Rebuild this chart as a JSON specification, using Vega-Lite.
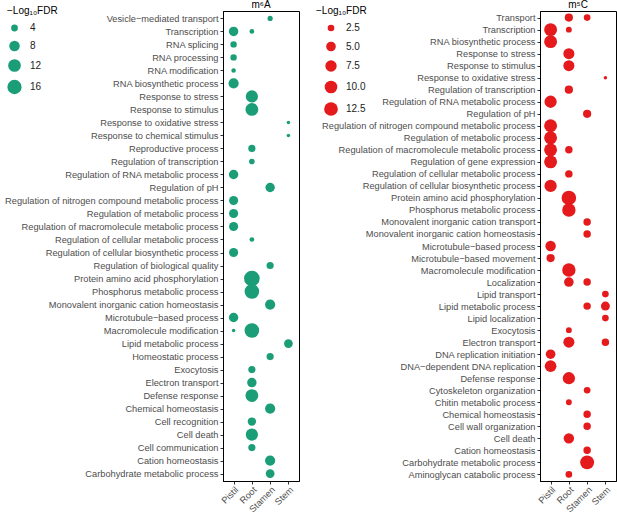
{
  "$schema": "https://vega.github.io/schema/vega-lite/v6.json",
  "padding": {"left": 4, "top": -1, "right": 0, "bottom": 0},
  "background": "white",
  "config": {
    "font": "Liberation Sans",
    "view": {"stroke": "black", "strokeWidth": 1},
    "axis": {"labelFont": "Liberation Sans", "labelFontSize": 9.25, "labelColor": "#4d4d4d", "tickColor": "#333333", "domainColor": "black", "grid": false, "title": null, "tickSize": 3, "labelPadding": 2, "labelLimit": 0},
    "title": {"font": "Liberation Sans", "fontSize": 10, "fontWeight": "normal", "offset": -4, "color": "black"},
    "legend": {"titleFont": "Liberation Sans", "titleFontSize": 10, "titleFontWeight": "normal", "titleColor": "black", "labelFont": "Liberation Sans", "labelFontSize": 10, "labelColor": "#222222", "symbolStrokeWidth": 0, "rowPadding": 8, "labelOffset": 8, "titlePadding": 7, "padding": 0},
    "concat": {"spacing": 15}
  },
  "datasets": {
    "m6A": [
      {"term": "Vesicle−mediated transport", "tissue": "Stamen", "fdr": 3.1},
      {"term": "Transcription", "tissue": "Pistil", "fdr": 6.5},
      {"term": "Transcription", "tissue": "Root", "fdr": 2.9},
      {"term": "RNA splicing", "tissue": "Pistil", "fdr": 3.75},
      {"term": "RNA processing", "tissue": "Pistil", "fdr": 3.75},
      {"term": "RNA modification", "tissue": "Pistil", "fdr": 2.8},
      {"term": "RNA biosynthetic process", "tissue": "Pistil", "fdr": 7.5},
      {"term": "Response to stress", "tissue": "Root", "fdr": 10.9},
      {"term": "Response to stimulus", "tissue": "Root", "fdr": 12.3},
      {"term": "Response to oxidative stress", "tissue": "Stem", "fdr": 2.5},
      {"term": "Response to chemical stimulus", "tissue": "Stem", "fdr": 2.5},
      {"term": "Reproductive process", "tissue": "Root", "fdr": 4.3},
      {"term": "Regulation of transcription", "tissue": "Root", "fdr": 3.3},
      {"term": "Regulation of RNA metabolic process", "tissue": "Pistil", "fdr": 6.5},
      {"term": "Regulation of pH", "tissue": "Stamen", "fdr": 6.5},
      {"term": "Regulation of nitrogen compound metabolic process", "tissue": "Pistil", "fdr": 6.1},
      {"term": "Regulation of metabolic process", "tissue": "Pistil", "fdr": 6.1},
      {"term": "Regulation of macromolecule metabolic process", "tissue": "Pistil", "fdr": 6.1},
      {"term": "Regulation of cellular metabolic process", "tissue": "Root", "fdr": 2.9},
      {"term": "Regulation of cellular biosynthetic process", "tissue": "Pistil", "fdr": 6.1},
      {"term": "Regulation of biological quality", "tissue": "Stamen", "fdr": 4.3},
      {"term": "Protein amino acid phosphorylation", "tissue": "Root", "fdr": 20.4},
      {"term": "Phosphorus metabolic process", "tissue": "Root", "fdr": 16.9},
      {"term": "Monovalent inorganic cation homeostasis", "tissue": "Stamen", "fdr": 7.5},
      {"term": "Microtubule−based process", "tissue": "Pistil", "fdr": 6.5},
      {"term": "Macromolecule modification", "tissue": "Pistil", "fdr": 2.5},
      {"term": "Macromolecule modification", "tissue": "Root", "fdr": 16.9},
      {"term": "Lipid metabolic process", "tissue": "Stem", "fdr": 5.7},
      {"term": "Homeostatic process", "tissue": "Stamen", "fdr": 4.3},
      {"term": "Exocytosis", "tissue": "Root", "fdr": 4.3},
      {"term": "Electron transport", "tissue": "Root", "fdr": 6.5},
      {"term": "Defense response", "tissue": "Root", "fdr": 12.3},
      {"term": "Chemical homeostasis", "tissue": "Stamen", "fdr": 7.5},
      {"term": "Cell recognition", "tissue": "Root", "fdr": 5.3},
      {"term": "Cell death", "tissue": "Root", "fdr": 10.9},
      {"term": "Cell communication", "tissue": "Root", "fdr": 4.3},
      {"term": "Cation homeostasis", "tissue": "Stamen", "fdr": 7.5},
      {"term": "Carbohydrate metabolic process", "tissue": "Stamen", "fdr": 5.7}
    ],
    "m5C": [
      {"term": "Transport", "tissue": "Root", "fdr": 3.6},
      {"term": "Transport", "tissue": "Stamen", "fdr": 2.5},
      {"term": "Transcription", "tissue": "Pistil", "fdr": 10.5},
      {"term": "Transcription", "tissue": "Root", "fdr": 2.1},
      {"term": "RNA biosynthetic process", "tissue": "Pistil", "fdr": 10.5},
      {"term": "Response to stress", "tissue": "Root", "fdr": 7.0},
      {"term": "Response to stimulus", "tissue": "Root", "fdr": 7.0},
      {"term": "Response to oxidative stress", "tissue": "Stem", "fdr": 1.3},
      {"term": "Regulation of transcription", "tissue": "Root", "fdr": 3.6},
      {"term": "Regulation of RNA metabolic process", "tissue": "Pistil", "fdr": 9.2},
      {"term": "Regulation of pH", "tissue": "Stamen", "fdr": 3.6},
      {"term": "Regulation of nitrogen compound metabolic process", "tissue": "Pistil", "fdr": 10.5},
      {"term": "Regulation of metabolic process", "tissue": "Pistil", "fdr": 10.5},
      {"term": "Regulation of macromolecule metabolic process", "tissue": "Pistil", "fdr": 10.5},
      {"term": "Regulation of macromolecule metabolic process", "tissue": "Root", "fdr": 3.0},
      {"term": "Regulation of gene expression", "tissue": "Pistil", "fdr": 10.5},
      {"term": "Regulation of cellular metabolic process", "tissue": "Root", "fdr": 3.0},
      {"term": "Regulation of cellular biosynthetic process", "tissue": "Pistil", "fdr": 9.2},
      {"term": "Protein amino acid phosphorylation", "tissue": "Root", "fdr": 14.8},
      {"term": "Phosphorus metabolic process", "tissue": "Root", "fdr": 11.7},
      {"term": "Monovalent inorganic cation transport", "tissue": "Stamen", "fdr": 3.0},
      {"term": "Monovalent inorganic cation homeostasis", "tissue": "Stamen", "fdr": 3.0},
      {"term": "Microtubule−based process", "tissue": "Pistil", "fdr": 6.0},
      {"term": "Microtubule−based movement", "tissue": "Pistil", "fdr": 3.6},
      {"term": "Macromolecule modification", "tissue": "Root", "fdr": 11.7},
      {"term": "Localization", "tissue": "Root", "fdr": 5.0},
      {"term": "Localization", "tissue": "Stamen", "fdr": 3.0},
      {"term": "Lipid transport", "tissue": "Stem", "fdr": 2.5},
      {"term": "Lipid metabolic process", "tissue": "Stamen", "fdr": 3.0},
      {"term": "Lipid metabolic process", "tissue": "Stem", "fdr": 4.3},
      {"term": "Lipid localization", "tissue": "Stem", "fdr": 2.5},
      {"term": "Exocytosis", "tissue": "Root", "fdr": 2.1},
      {"term": "Electron transport", "tissue": "Root", "fdr": 7.0},
      {"term": "Electron transport", "tissue": "Stem", "fdr": 3.0},
      {"term": "DNA replication initiation", "tissue": "Pistil", "fdr": 5.0},
      {"term": "DNA−dependent DNA replication", "tissue": "Pistil", "fdr": 8.0},
      {"term": "Defense response", "tissue": "Root", "fdr": 9.2},
      {"term": "Cytoskeleton organization", "tissue": "Stamen", "fdr": 2.5},
      {"term": "Chitin metabolic process", "tissue": "Root", "fdr": 2.1},
      {"term": "Chemical homeostasis", "tissue": "Stamen", "fdr": 3.0},
      {"term": "Cell wall organization", "tissue": "Stamen", "fdr": 3.0},
      {"term": "Cell death", "tissue": "Root", "fdr": 6.0},
      {"term": "Cation homeostasis", "tissue": "Stamen", "fdr": 3.0},
      {"term": "Carbohydrate metabolic process", "tissue": "Stamen", "fdr": 13.2},
      {"term": "Aminoglycan catabolic process", "tissue": "Root", "fdr": 2.5}
    ]
  },
  "hconcat": [
    {
      "width": 76,
      "height": 470,
      "title": "m⁶A",
      "data": {"name": "m6A"},
      "mark": {"type": "circle", "color": "#1b9e77", "opacity": 1},
      "encoding": {
        "x": {"field": "tissue", "type": "nominal", "scale": {"type": "point", "domain": ["Pistil", "Root", "Stamen", "Stem"], "padding": 0.58}, "axis": {"labelAngle": -45, "title": null, "labelPadding": 1}},
        "y": {"field": "term", "type": "nominal", "sort": null, "scale": {"type": "point", "padding": 0.57}, "axis": {"title": null}},
        "size": {"field": "fdr", "type": "quantitative", "scale": {"type": "sqrt", "domain": [2.47, 16], "range": [12, 204]}, "legend": {"title": "−Log₁₀FDR", "values": [4, 8, 12, 16], "orient": "none", "legendX": -216, "legendY": -5, "rowPadding": 7.5}}
      }
    },
    {
      "width": 76,
      "height": 470,
      "title": "m⁵C",
      "data": {"name": "m5C"},
      "mark": {"type": "circle", "color": "#e41a1c", "opacity": 1},
      "encoding": {
        "x": {"field": "tissue", "type": "nominal", "scale": {"type": "point", "domain": ["Pistil", "Root", "Stamen", "Stem"], "padding": 0.58}, "axis": {"labelAngle": -45, "title": null, "labelPadding": 1}},
        "y": {"field": "term", "type": "nominal", "sort": null, "scale": {"type": "point", "padding": 0.55}, "axis": {"title": null}},
        "size": {"field": "fdr", "type": "quantitative", "scale": {"type": "sqrt", "domain": [1.3, 12.5], "range": [12, 188]}, "legend": {"title": "−Log₁₀FDR", "values": [2.5, 5, 7.5, 10, 12.5], "format": ".1f", "orient": "none", "legendX": -224, "legendY": -5, "rowPadding": 8.5, "symbolOffset": 8}}
      }
    }
  ],
  "resolve": {"scale": {"x": "independent", "y": "independent", "size": "independent"}, "legend": {"size": "independent"}}
}
